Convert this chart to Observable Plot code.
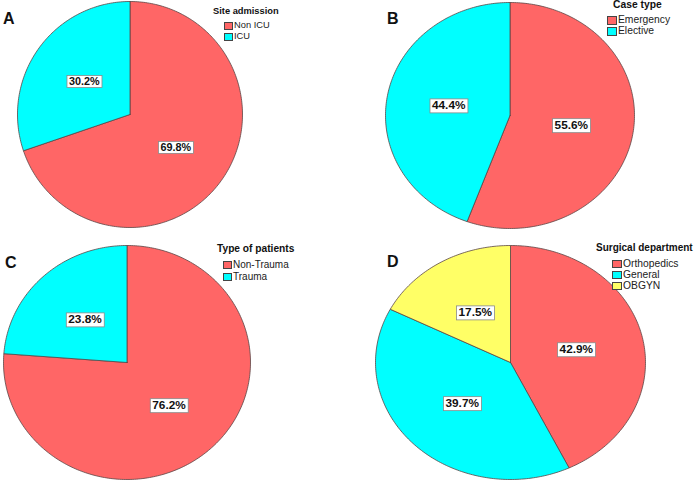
<!DOCTYPE html>
<html><head><meta charset="utf-8">
<script src="https://cdn.jsdelivr.net/npm/d3@7"></script>
<script src="https://cdn.jsdelivr.net/npm/@observablehq/plot@0.6"></script>
<style>
body{margin:0;background:#fff;font-family:"Liberation Sans",Arial,sans-serif;color:#111;}
#root{position:relative;width:700px;height:482px;overflow:hidden;background:#fff;}
.panel{position:absolute;width:350px;height:241px;}
.panel svg{position:absolute;left:0;top:0;overflow:visible;}
.letter{position:absolute;font-weight:bold;font-size:16px;line-height:16px;color:#111;}
.ltitle{position:absolute;font-weight:bold;white-space:nowrap;color:#111;}
.litem{position:absolute;white-space:nowrap;color:#222;}
.sw{position:absolute;box-sizing:border-box;border:1px solid #444;}
</style></head><body><div id="root"></div><script>
// ---- data ----
const panelLetters = ["A", "B", "C", "D"];
const legendTitles = ["Site admission", "Case type", "Type of patients", "Surgical department"];
const siteCategories = ["Non ICU", "ICU"];
const siteValues = [69.8, 30.2];
const caseCategories = ["Emergency", "Elective"];
const caseValues = [55.6, 44.4];
const patientCategories = ["Non-Trauma", "Trauma"];
const patientValues = [76.2, 23.8];
const deptCategories = ["Orthopedics", "General", "OBGYN"];
const deptValues = [42.9, 39.7, 17.5];

// ---- styles / layout ----
const palette = ["#ff6666", "#00ffff", "#ffff66"];
const layouts = [
  {left: 0,   top: 0,   cx: 129.5, cy: 114, rx: 112.5, ry: 113, letter: [3, 11],  lfs: 9.3,  tfs: 9.3,  title: [213, 7],  sw: [224, 22], swSize: [9, 8],  pitch: 11,   labelSize: 10.8},
  {left: 350, top: 0,   cx: 159.5, cy: 115, rx: 124.5, ry: 113, letter: [37, 11], lfs: 10.3, tfs: 10.3, title: [263, 0],  sw: [257, 16], swSize: [10, 9], pitch: 11,   labelSize: 11.8},
  {left: 0,   top: 241, cx: 126.5, cy: 121, rx: 123.5, ry: 117, letter: [5, 14],  lfs: 10,   tfs: 10.2, title: [217, 3],  sw: [223, 20], swSize: [9, 8],  pitch: 11.5, labelSize: 11.8},
  {left: 350, top: 241, cx: 160,   cy: 121, rx: 135,   ry: 117, letter: [37, 13], lfs: 10.3, tfs: 10,   title: [246, 2],  sw: [262, 19], swSize: [10, 8], pitch: 11,   labelSize: 11.8}
];
const panels = [
  {cats: siteCategories, values: siteValues},
  {cats: caseCategories, values: caseValues},
  {cats: patientCategories, values: patientValues},
  {cats: deptCategories, values: deptValues}
];

const root = document.getElementById("root");

panels.forEach((p, i) => {
  const L = layouts[i];
  const div = document.createElement("div");
  div.className = "panel";
  div.style.left = L.left + "px";
  div.style.top = L.top + "px";
  root.appendChild(div);

  const arcs = d3.pie().sort(null).value(d => d)(p.values);
  const pts = [];
  const labels = [];
  arcs.forEach((a, k) => {
    const cat = p.cats[k];
    const n = Math.max(2, Math.ceil((a.endAngle - a.startAngle) / (Math.PI / 180)));
    pts.push({x: 0, y: 0, cat});
    for (let j = 0; j <= n; j++) {
      const t = a.startAngle + (a.endAngle - a.startAngle) * j / n;
      pts.push({x: Math.sin(t), y: Math.cos(t), cat});
    }
    pts.push({x: 0, y: 0, cat});
    const m = (a.startAngle + a.endAngle) / 2;
    labels.push({x: 0.5 * Math.sin(m), y: 0.5 * Math.cos(m), label: p.values[k].toFixed(1) + "%"});
  });

  const svg = Plot.plot({
    width: 350, height: 241, margin: 0,
    x: {domain: [-1, 1], range: [L.cx - L.rx, L.cx + L.rx], axis: null},
    y: {domain: [-1, 1], range: [L.cy + L.ry, L.cy - L.ry], axis: null},
    color: {domain: p.cats, range: palette.slice(0, p.cats.length)},
    style: {fontFamily: "'Liberation Sans', Arial, sans-serif", background: "transparent", overflow: "visible"},
    marks: [
      Plot.line(pts, {x: "x", y: "y", z: "cat", fill: "cat", stroke: "#5b4545", strokeWidth: 0.8, curve: "linear"}),
      Plot.text(labels, {x: "x", y: "y", text: "label", fontWeight: "bold", fontSize: L.labelSize, fill: "#111"})
    ]
  });
  div.appendChild(svg);

  // white boxes behind the percentage labels
  d3.select(svg).selectAll('g[aria-label="text"] text').each(function() {
    const b = this.getBBox();
    const tr = this.getAttribute("transform");
    const r = d3.select(this.parentNode).insert("rect", () => this)
      .attr("x", b.x - 2).attr("y", b.y + 0.5).attr("width", b.width + 4).attr("height", b.height)
      .attr("fill", "#fff").attr("stroke", "#8a8a8a").attr("stroke-width", 0.8);
    if (tr) r.attr("transform", tr);
  });

  // panel letter
  const let_ = document.createElement("div");
  let_.className = "letter";
  let_.textContent = panelLetters[i];
  let_.style.left = L.letter[0] + "px";
  let_.style.top = L.letter[1] + "px";
  div.appendChild(let_);

  // legend
  const t = document.createElement("div");
  t.className = "ltitle";
  t.textContent = legendTitles[i];
  t.style.left = L.title[0] + "px";
  t.style.top = L.title[1] + "px";
  t.style.fontSize = L.tfs + "px";
  t.style.lineHeight = L.tfs + "px";
  div.appendChild(t);
  p.cats.forEach((c, k) => {
    const s = document.createElement("div");
    s.className = "sw";
    s.style.left = L.sw[0] + "px";
    s.style.top = (L.sw[1] + k * L.pitch) + "px";
    s.style.width = L.swSize[0] + "px";
    s.style.height = L.swSize[1] + "px";
    s.style.background = palette[k];
    div.appendChild(s);
    const it = document.createElement("div");
    it.className = "litem";
    it.textContent = c;
    it.style.left = (L.sw[0] + L.swSize[0] + 1) + "px";
    it.style.top = (L.sw[1] + k * L.pitch - 1) + "px";
    it.style.fontSize = L.lfs + "px";
    it.style.lineHeight = L.lfs + "px";
    div.appendChild(it);
  });
});
</script></body></html>
